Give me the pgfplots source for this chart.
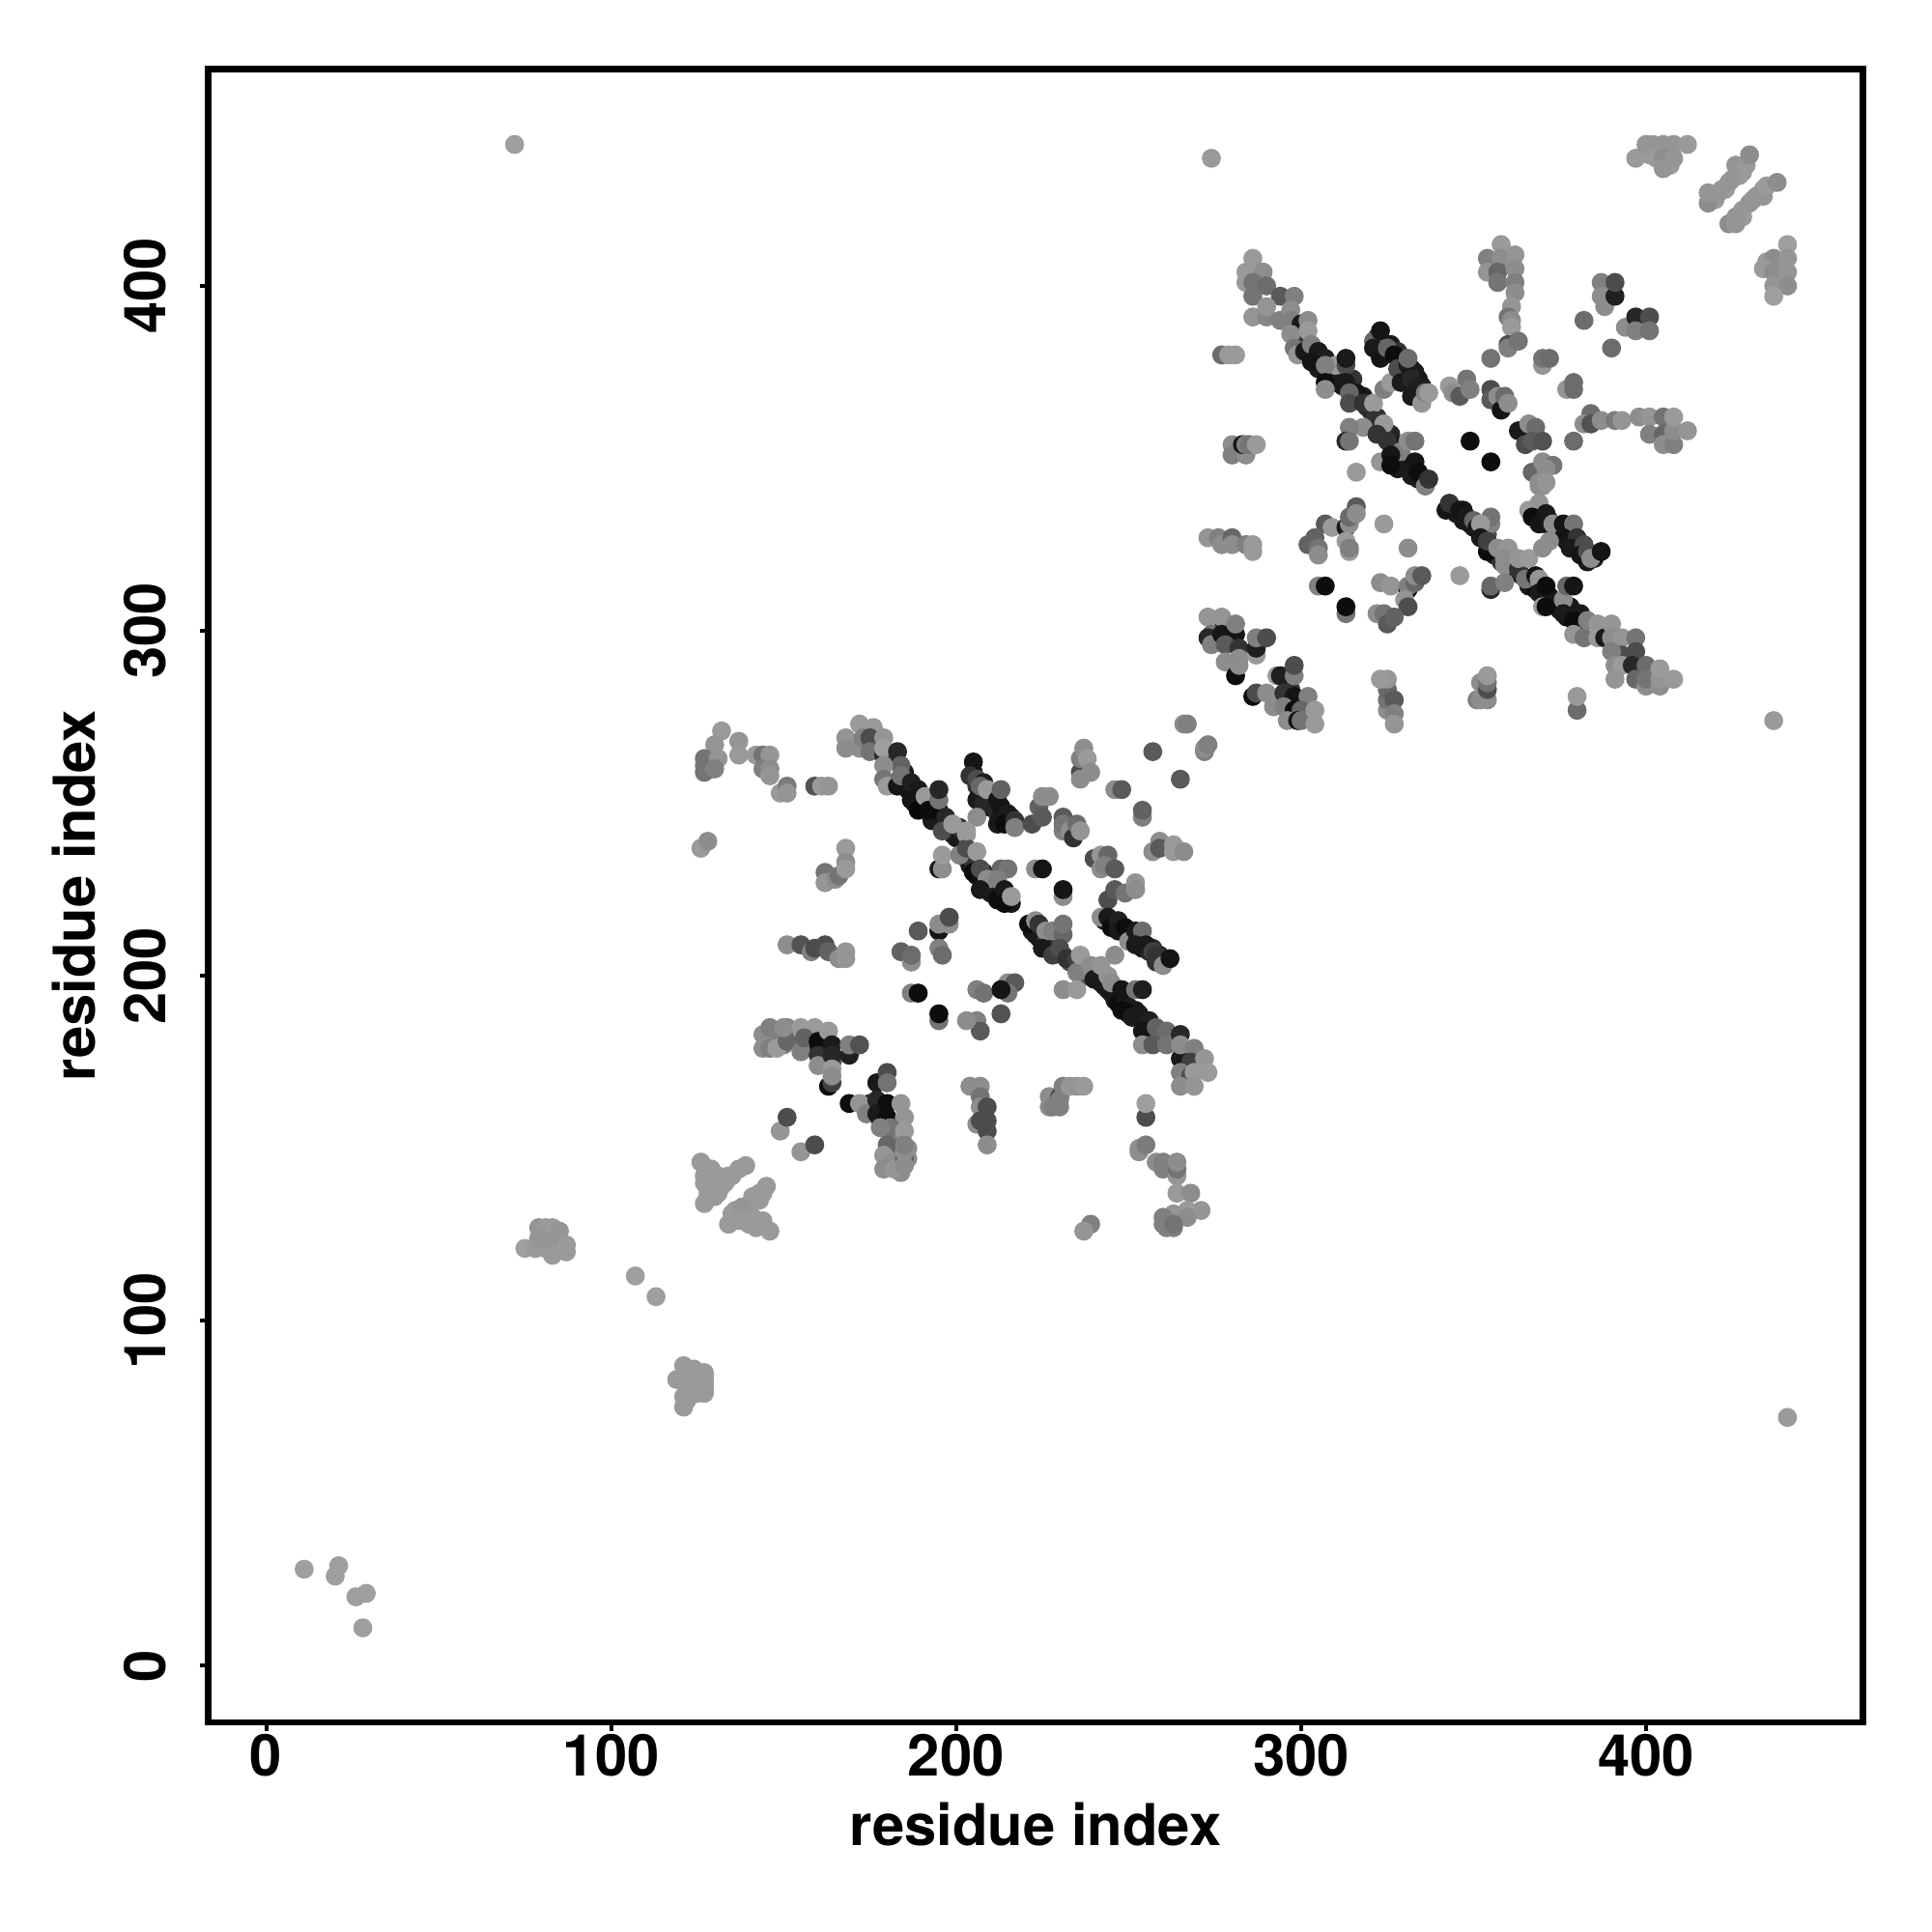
\documentclass[border=0pt]{standalone}
\usepackage{pgfplots}
\pgfplotsset{compat=1.18}
\usepackage{pgfplotstable}
\usepackage{fontspec}
\setmainfont{TeX Gyre Heros}
\pgfplotstableread{
x y g
183 147 .5
183 145 .5
181 146 .55
184 143 .55
186 147 .55
186 150 .55
183 151 .5
182 148 .45
164 175 .3
178 161 .1
178 158 .2
175 163 .2
160 179 .1
162 178 .1
277 300 .1
279 298 .1
279 301 .3
296 280 .1
297 283 .2
300 279 .2
183 262 .1
185 259 .1
185 256 .08
186 254 .08
187 253 .05
188 250 .05
190 251 .1
191 249 .05
192 250 .1
193 247 .1
194 246 .05
193 245 .1
196 245 .1
198 243 .1
199 241 .2
200 240 .1
201 243 .2
205 259 .15
206 255 .2
208 253 .1
210 252 .15
211 250 .1
209 249 .1
212 247 .15
213 246 .1
215 245 .15
216 246 .2
212 244 .1
203 234 .2
204 232 .1
205 233 .2
206 229 .1
208 230 .15
209 226 .1
210 228 .2
211 225 .1
210 224 .1
213 223 .1
215 222 .1
216 221 .1
222 213 .1
223 212 .1
224 211 .1
226 210 .2
227 208 .15
229 207 .2
231 206 .25
233 204 .3
237 202 .4
238 200 .3
241 199 .2
242 198 .1
244 196 .1
245 195 .1
246 193 .1
247 192 .05
249 192 .1
250 191 .1
252 190 .1
250 189 .05
255 186 .1
256 185 .1
259 183 .3
257 183 .3
262 182 .3
263 181 .2
243 216 .1
245 216 .1
246 215 .1
248 213 .1
250 212 .1
251 211 .1
253 211 .1
253 210 .1
254 208 .1
256 207 .15
257 208 .2
259 206 .15
260 205 .2
258 204 .2
300 384 .2
302 381 .2
304 380 .15
305 379 .1
306 378 .1
305 376 .1
308 376 .1
309 374 .05
311 375 .1
310 372 .1
312 371 .1
315 373 .2
316 367 .1
318 368 .1
319 365 .1
320 364 .15
322 362 .2
324 358 .15
326 357 .15
327 354 .1
328 353 .1
329 350 .1
330 349 .05
327 349 .1
328 347 .1
331 347 .1
332 347 .1
333 346 .05
334 344 .1
335 344 .1
344 335 .1
345 334 .1
347 335 .1
347 332 .1
349 331 .1
350 330 .1
352 329 .1
353 329 .2
354 328 .3
356 322 .1
358 320 .2
360 319 .2
361 319 .2
362 317 .1
364 316 .1
366 315 .1
366 313 .1
367 314 .1
368 312 .05
369 313 .1
370 310 .1
372 310 .05
373 309 .1
374 307 .1
375 306 .1
376 307 .1
377 304 .05
378 304 .1
380 302 .1
322 385 .1
323 384 .1
324 383 .2
326 383 .1
327 381 .1
328 379 .1
328 381 .2
330 378 .1
332 376 .1
333 375 .1
333 372 .1
334 373 .1
335 371 .1
331 375 .2
333 370 .1
334 369 .1
368 335 .1
370 333 .1
371 331 .1
373 330 .1
374 329 .1
375 328 .1
376 329 .1
377 326 .1
378 326 .1
379 325 .1
380 324 .2
381 325 .1
382 322 .1
384 322 .2
385 321 .1
383 320 .1
127 80 .6
127 82 .6
127 84 .6
125 81 .6
125 83 .6
123 84 .6
123 82 .6
123 80 .6
122 77 .6
122 80 .6
80 125 .6
82 125 .6
84 125 .6
80 122 .6
84 121 .6
85 121 .6
86 122 .6
81 121 .6
83 122 .6
84 124 .6
127 140 .6
128 141 .6
129 140 .6
130 140 .6
131 142 .6
132 141 .6
133 140 .6
135 142 .6
129 137 .6
131 137 .6
128 136 .6
140 133 .6
141 136 .6
143 135 .6
144 137 .6
140 131 .6
139 130 .6
140 128 .6
141 130 .6
137 131 .6
136 132 .6
135 131 .6
400 439 .6
402 441 .6
403 439 .6
406 439 .6
401 438 .6
407 435 .6
420 425 .6
422 428 .6
423 428 .6
425 431 .6
427 432 .6
428 433 .6
428 420 .6
428 422 .6
431 425 .6
434 428 .6
439 406 .6
438 402 .6
440 406 .6
439 402 .6
435 407 .6
127 261 .5
128 262 .5
129 260 .55
129 263 .55
145 181 .55
147 183 .55
149 181 .5
146 182 .55
148 184 .5
150 180 .5
72 441 .62
274 437 .6
437 274 .6
441 72 .6
11 28 .62
21 29 .62
20 26 .62
26 20 .62
29 21 .62
28 11 .62
107 113 .62
113 107 .62
121 87 .6
124 86 .6
119 83 .6
121 83 .6
121 78 .6
121 75 .6
125 85 .6
125 79 .6
127 85 .6
127 83 .6
127 81 .6
127 79 .6
75 121 .62
78 121 .6
79 127 .58
81 127 .6
83 127 .6
85 126 .58
79 124 .58
82 123 .58
83 119 .6
87 122 .6
87 120 .6
126 146 .6
129 144 .6
127 142 .6
134 142 .6
139 145 .6
137 144 .6
132 139 .6
128 138 .6
127 134 .6
130 136 .6
145 139 .6
143 137 .6
142 135 .6
138 133 .58
134 128 .6
136 129 .6
138 129 .6
142 129 .6
144 129 .6
142 127 .6
146 126 .6
132 271 .6
130 267 .58
137 268 .58
137 264 .6
127 263 .45
131 263 .58
127 259 .45
130 260 .5
142 264 .6
144 264 .45
146 264 .58
144 260 .5
146 260 .55
146 258 .58
149 253 .6
151 255 .48
151 253 .58
159 255 .32
161 255 .6
163 255 .58
126 237 .6
128 239 .55
168 237 .6
168 233 .55
162 230 .45
162 227 .58
165 228 .55
166 229 .45
168 231 .6
151 209 .55
155 209 .32
158 207 .5
159 208 .3
162 209 .3
163 207 .38
166 205 .55
168 207 .58
168 205 .58
184 207 .38
187 204 .55
187 206 .42
195 213 .08
189 213 .35
195 215 .55
198 215 .55
198 217 .3
195 208 .5
196 206 .42
187 195 .5
189 195 .05
172 273 .6
168 269 .58
168 266 .55
172 266 .55
176 272 .6
173 269 .5
175 269 .3
175 265 .45
179 269 .58
179 264 .15
179 266 .62
183 265 .15
184 261 .38
179 261 .55
179 257 .45
180 255 .6
183 255 .08
184 258 .45
187 256 .12
189 254 .1
187 251 .08
189 248 .03
191 252 .6
195 248 .05
192 248 .05
195 251 .45
195 254 .15
197 246 .15
196 242 .3
199 244 .6
195 231 .1
196 231 .55
196 235 .6
201 235 .5
203 241 .6
205 262 .08
204 258 .2
206 257 .3
208 256 .12
206 251 .1
208 250 .15
207 255 .4
209 254 .6
212 251 .08
213 249 .08
215 247 .1
214 244 .05
213 254 .38
217 245 .2
217 243 .5
206 246 .55
222 244 .3
224 249 .38
225 246 .35
225 252 .55
227 252 .55
231 246 .35
231 242 .5
231 244 .45
233 242 .55
234 240 .2
235 244 .42
236 242 .58
236 259 .3
236 257 .55
236 263 .5
237 266 .55
238 263 .6
239 259 .55
246 254 .55
248 254 .35
257 265 .35
266 273 .55
267 273 .5
272 265 .5
272 266 .55
273 267 .5
265 257 .35
254 246 .5
254 248 .38
259 239 .55
257 236 .55
259 237 .35
263 236 .6
263 238 .6
266 236 .55
240 234 .3
242 235 .58
242 231 .55
244 235 .4
243 232 .5
246 231 .35
244 222 .3
246 225 .35
249 224 .45
252 227 .58
252 225 .55
242 217 .55
244 217 .1
245 214 .05
247 216 .12
247 213 .1
249 214 .05
250 210 .55
252 213 .1
254 213 .42
252 209 .1
255 209 .1
257 207 .25
258 206 .2
260 203 .55
262 205 .08
246 206 .55
223 231 .55
225 231 .08
231 223 .55
231 225 .08
221 215 .05
223 216 .55
224 215 .2
226 213 .55
228 213 .5
231 212 .4
231 215 .45
225 208 .1
228 206 .25
230 208 .3
232 205 .2
235 205 .25
235 201 .5
236 206 .6
239 203 .55
240 199 .1
243 197 .1
242 203 .58
244 200 .58
245 198 .55
248 196 .08
252 196 .45
254 196 .12
231 196 .55
235 196 .6
206 196 .5
208 195 .45
215 198 .55
217 198 .35
215 195 .45
213 196 .08
203 237 .3
203 242 .6
206 236 .6
205 230 .05
207 231 .3
209 228 .55
213 231 .4
215 231 .45
212 228 .5
207 225 .1
212 222 .05
214 225 .1
214 221 .05
216 223 .6
213 189 .32
206 187 .5
207 184 .35
248 190 .05
251 188 .1
253 189 .1
256 187 .12
254 184 .08
258 185 .38
261 184 .42
254 180 .55
257 180 .35
261 180 .45
265 183 .15
265 176 .1
265 180 .55
269 179 .5
268 175 .25
272 176 .58
265 172 .5
268 171 .3
269 172 .6
273 172 .6
265 168 .55
269 168 .58
204 168 .55
207 168 .55
207 165 .45
207 162 .55
206 157 .55
209 162 .3
207 158 .3
209 158 .3
209 155 .3
209 151 .55
227 165 .55
227 162 .55
228 162 .5
230 162 .5
230 165 .3
230 164 .5
231 168 .5
233 168 .58
235 168 .58
237 168 .6
255 159 .3
255 163 .62
253 150 .58
253 149 .55
255 151 .48
258 146 .55
260 144 .5
260 146 .5
264 142 .58
264 144 .45
264 146 .55
264 137 .6
268 137 .55
271 132 .58
267 132 .6
263 131 .58
267 130 .55
260 128 .5
260 130 .5
261 127 .5
263 127 .5
263 128 .45
239 128 .5
237 126 .58
144 179 .55
144 183 .55
146 185 .5
146 179 .5
148 179 .6
151 185 .5
151 181 .4
150 185 .55
155 178 .5
155 185 .6
159 185 .6
156 182 .38
160 181 .05
160 177 .2
160 174 .55
163 184 .6
164 180 .1
164 177 .15
163 168 .05
164 169 .25
164 173 .6
164 171 .55
169 177 .12
169 180 .5
172 180 .32
177 169 .1
180 172 .3
180 169 .45
169 163 .05
172 163 .58
174 160 .5
177 164 .15
177 160 .1
180 163 .05
180 159 .05
184 163 .58
185 159 .58
181 156 .45
178 156 .5
185 155 .6
180 151 .4
179 148 .58
179 144 .55
182 146 .55
182 144 .58
185 147 .38
185 145 .55
185 149 .55
185 151 .5
149 155 .58
151 159 .3
155 149 .58
159 151 .3
195 187 .45
195 189 .05
203 187 .55
277 380 .42
279 380 .6
281 380 .6
286 408 .6
284 404 .6
284 401 .6
289 404 .55
286 401 .45
290 400 .42
286 397 .45
294 397 .35
298 397 .5
286 391 .58
290 391 .52
290 394 .58
294 390 .5
297 393 .55
297 390 .5
300 389 .1
302 390 .55
297 386 .55
302 387 .6
298 382 .45
299 380 .58
301 381 .1
303 383 .5
305 381 .1
307 379 .12
303 378 .08
310 377 .6
307 377 .5
313 377 .3
313 379 .1
307 372 .05
307 370 .55
313 372 .1
316 369 .08
314 369 .4
314 366 .3
318 366 .2
321 366 .6
321 361 .2
324 370 .5
326 372 .6
318 359 .55
324 360 .6
314 359 .5
313 355 .15
314 355 .45
322 357 .2
325 355 .2
329 352 .5
331 355 .55
333 355 .45
323 349 .58
326 351 .08
326 348 .05
333 349 .08
332 345 .1
334 346 .05
336 342 .5
337 344 .2
321 384 .4
323 387 .08
321 382 .1
323 379 .08
325 382 .4
327 380 .05
328 376 .3
331 377 .1
331 379 .42
329 372 .1
332 373 .15
334 371 .12
332 368 .1
335 366 .58
336 369 .5
337 369 .6
349 355 .06
280 354 .55
280 351 .5
284 351 .55
283 354 .1
284 354 .5
285 354 .45
287 354 .6
316 346 .6
343 371 .6
344 369 .55
346 368 .35
348 373 .45
349 370 .5
342 335 .08
343 337 .2
346 335 .08
348 333 .1
350 332 .4
351 330 .1
307 331 .35
309 330 .6
313 330 .1
314 331 .55
314 333 .42
316 336 .35
316 334 .55
324 331 .6
273 327 .58
276 327 .5
277 325 .55
280 327 .4
280 325 .55
284 325 .5
286 325 .6
286 323 .6
304 327 .38
302 325 .38
305 324 .45
305 322 .55
313 326 .6
314 323 .6
314 324 .5
331 324 .55
346 316 .6
305 313 .5
307 313 .05
313 305 .45
313 307 .05
323 314 .55
326 313 .58
331 312 .08
331 313 .5
333 314 .4
333 316 .55
335 316 .35
330 309 .58
331 307 .3
322 305 .55
324 305 .45
325 302 .35
327 304 .38
273 304 .58
277 304 .58
274 299 .45
273 298 .15
274 296 .5
277 299 .08
281 299 .08
281 302 .5
278 296 .35
282 295 .2
278 291 .55
281 287 .05
282 292 .55
282 290 .55
287 293 .6
287 295 .12
287 298 .5
290 298 .3
293 287 .6
294 287 .12
298 287 .5
298 290 .3
286 281 .05
287 282 .3
290 282 .55
292 278 .55
295 282 .2
298 281 .08
295 278 .5
298 277 .05
302 281 .5
300 277 .4
296 274 .55
299 274 .08
300 274 .45
304 277 .6
304 273 .6
325 277 .55
325 280 .45
325 283 .4
325 286 .58
323 286 .6
327 280 .35
327 276 .5
327 273 .58
351 280 .5
352 280 .55
352 285 .55
354 280 .55
354 283 .3
354 285 .45
354 287 .6
380 277 .42
380 281 .6
355 331 .5
355 333 .45
352 331 .6
352 327 .1
354 323 .05
354 326 .25
357 324 .55
360 324 .58
359 319 .55
359 321 .55
363 318 .2
363 321 .58
366 321 .6
365 315 .45
368 316 .08
369 315 .58
369 311 .1
371 313 .05
370 307 .6
371 307 .05
378 307 .1
376 309 .55
377 313 .4
379 313 .08
381 305 .1
376 305 .1
379 303 .05
379 299 .58
382 298 .45
383 303 .5
386 302 .58
386 298 .6
388 298 .1
390 302 .58
390 298 .55
393 298 .58
397 298 .45
397 294 .3
393 293 .3
390 294 .5
391 290 .55
393 290 .6
396 290 .15
400 290 .42
391 286 .58
397 286 .4
400 284 .55
400 286 .45
404 284 .55
404 286 .58
404 289 .6
408 286 .6
370 342 .58
369 342 .55
366 335 .6
369 337 .58
367 333 .05
371 334 .1
369 331 .08
372 332 .1
373 331 .55
376 331 .08
379 331 .45
376 327 .08
380 327 .2
378 324 .1
372 326 .55
370 324 .55
382 325 .3
381 322 .08
383 323 .3
384 321 .55
387 323 .08
355 312 .15
355 313 .4
359 314 .5
358 412 .6
354 408 .5
354 404 .58
358 408 .55
362 409 .58
357 404 .4
362 405 .55
357 401 .45
362 401 .5
362 398 .55
361 394 .58
360 391 .45
361 390 .55
361 388 .6
360 383 .3
360 382 .5
363 384 .45
355 379 .45
370 377 .58
370 379 .45
372 379 .42
377 370 .58
379 372 .42
379 370 .42
387 401 .5
387 397 .55
388 394 .55
391 397 .12
391 401 .3
382 390 .42
390 382 .42
394 388 .55
397 391 .15
397 387 .5
401 391 .3
401 387 .45
379 355 .42
384 363 .42
382 360 .55
384 360 .32
387 361 .55
391 361 .48
393 361 .58
398 362 .55
401 362 .58
405 362 .45
401 357 .5
405 357 .4
405 354 .55
408 354 .5
408 358 .55
412 358 .58
408 362 .6
355 370 .3
355 367 .35
357 368 .55
358 364 .08
359 368 .42
360 366 .55
363 358 .1
366 360 .55
368 359 .42
365 354 .3
367 355 .35
370 355 .32
355 349 .05
367 346 .4
370 349 .55
373 348 .45
371 347 .55
369 343 .55
371 343 .58
397 437 .6
400 441 .58
403 437 .6
405 441 .58
405 437 .55
405 434 .58
408 441 .58
408 437 .58
412 441 .6
418 424 .55
418 427 .58
421 427 .58
424 430 .58
426 435 .58
429 435 .6
430 438 .55
424 418 .55
426 418 .58
426 420 .58
430 424 .58
432 426 .58
434 426 .58
435 429 .6
438 430 .55
441 412 .62
437 408 .55
441 408 .58
434 405 .6
437 404 .55
441 404 .58
437 400 .58
441 400 .55
437 397 .62
}\contacts
\begin{document}
\begin{tikzpicture}
\path[use as bounding box] (0,0) rectangle (20,20);
\begin{axis}[
  at={(2.156cm,2.17cm)},anchor=south west,
  scale only axis,width=17.13cm,height=17.116cm,
  xmin=-16.8,xmax=462.9,ymin=-16.4,ymax=462.9,
  xtick={0,100,200,300,400},ytick={0,100,200,300,400},
  tick align=outside,xtick pos=left,ytick pos=left,
  major tick length=0.09cm,
  axis line style={line width=1.8pt,black},
  tick style={line width=1.15pt,black},
  /pgf/number format/assume math mode=true,
  tick label style={font=\fontsize{17}{20}\selectfont\bfseries},
  label style={font=\fontsize{17}{20}\selectfont\bfseries},
  xticklabel style={anchor=north,yshift=2.6pt},
  yticklabel style={rotate=90,anchor=south,yshift=6.4pt},
  xlabel={residue index},ylabel={residue index},
  xlabel style={at={(axis description cs:0.5,-0.0615)},anchor=center},
  ylabel style={at={(axis description cs:-0.0814,0.5)},anchor=center},
  colormap={bw}{gray(0cm)=(0); gray(1cm)=(1)},
  point meta min=0,point meta max=1,
  scatter/use mapped color={draw=mapped color,fill=mapped color},
  clip=true,
]
\addplot[scatter,only marks,mark=*,mark size=2.6pt,scatter src=explicit]
  table[x=x,y=y,meta=g]{\contacts};
\end{axis}
\end{tikzpicture}
\end{document}
